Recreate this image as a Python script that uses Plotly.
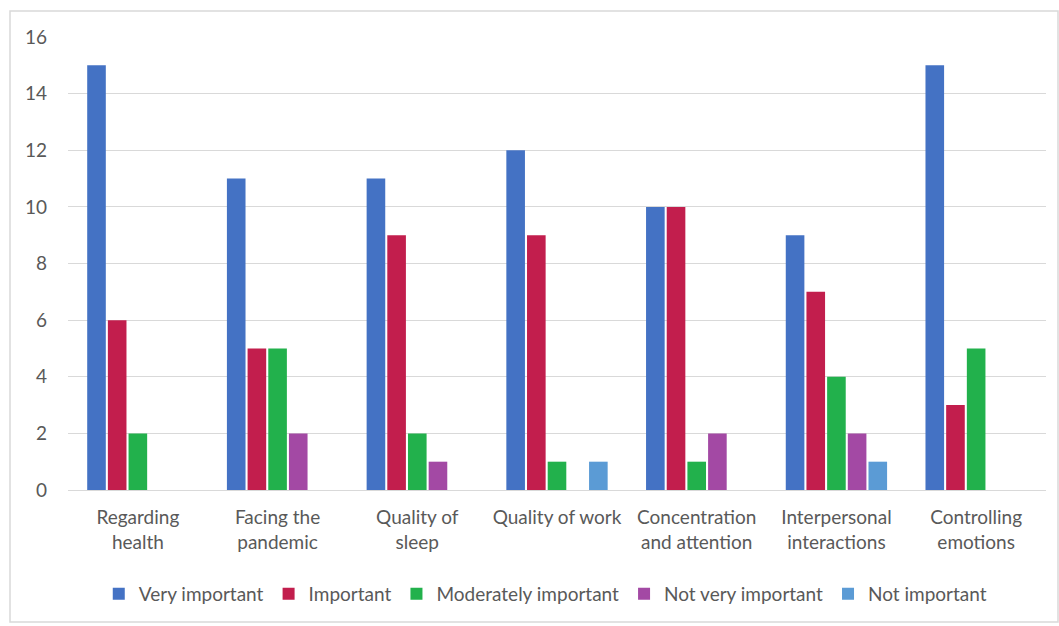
import plotly.graph_objects as go

categories = [
    "Regarding<br>health",
    "Facing the<br>pandemic",
    "Quality of<br>sleep",
    "Quality of work",
    "Concentration<br>and attention",
    "Interpersonal<br>interactions",
    "Controlling<br>emotions",
]

very_important = [15, 11, 11, 12, 10, 9, 15]
important = [6, 5, 9, 9, 10, 7, 3]
moderately_important = [2, 5, 2, 1, 1, 4, 5]
not_very_important = [0, 2, 1, 0, 2, 2, 0]
not_important = [0, 0, 0, 1, 0, 1, 0]

series = [
    ("Very important", very_important, "#4472C4"),
    ("Important", important, "#C21E4D"),
    ("Moderately important", moderately_important, "#22B14C"),
    ("Not very important", not_very_important, "#A349A4"),
    ("Not important", not_important, "#5B9BD5"),
]

W, H = 1059, 626
ML, MR, MT, MB = 68, 13, 37, 136
PW, PH = W - ML - MR, H - MT - MB

fig = go.Figure()
for name, vals, color in series:
    fig.add_trace(go.Bar(name=name, x=categories, y=vals, marker_color=color,
                         marker_line_width=0))

def px_x(x):
    return (x - ML) / PW

def px_y(y):
    return (H - MB - y) / PH

font = "Lato, 'Open Sans', sans-serif"

fig.update_layout(
    width=W, height=H,
    margin=dict(l=ML, r=MR, t=MT, b=MB),
    paper_bgcolor="white", plot_bgcolor="white",
    barmode="group", bargap=0.26, bargroupgap=0.1,
    font=dict(family=font, size=19, color="#595959"),
    showlegend=True,
    legend=dict(orientation="h", x=0.488, xanchor="center",
                y=px_y(594), yanchor="middle",
                font=dict(size=19, color="#595959"),
                itemwidth=30, traceorder="normal"),
    xaxis=dict(showgrid=False, showline=False, ticks="", tickfont=dict(size=19),
               ticklabelstandoff=14),
    yaxis=dict(range=[0, 16], dtick=2, showgrid=True, gridcolor="#D9D9D9",
               gridwidth=1, zeroline=True, zerolinecolor="#D9D9D9", zerolinewidth=1,
               showline=False, ticks="", tickfont=dict(size=19), ticklabelstandoff=20),
    shapes=[dict(type="rect", xref="paper", yref="paper",
                 x0=px_x(10), x1=px_x(1058), y0=px_y(622), y1=px_y(11),
                 line=dict(color="#D9D9D9", width=1.5), layer="below")],
)

fig.write_html("out.html")
